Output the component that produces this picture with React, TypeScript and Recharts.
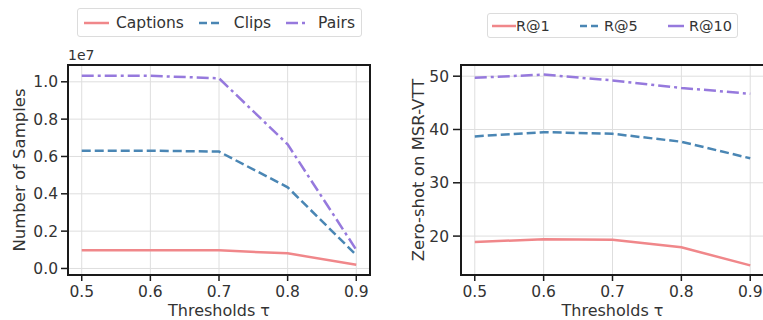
import {
  LineChart,
  Line,
  XAxis,
  YAxis,
  CartesianGrid,
  ReferenceArea,
} from 'recharts';

const thresholds = [0.5, 0.6, 0.7, 0.8, 0.9];
const xTicks = [0.5, 0.6, 0.7, 0.8, 0.9];

// left panel: sample counts
const captions = [0.098e7, 0.098e7, 0.097e7, 0.081e7, 0.02e7];
const clips = [0.631e7, 0.631e7, 0.626e7, 0.435e7, 0.072e7];
const pairs = [1.033e7, 1.032e7, 1.019e7, 0.665e7, 0.1e7];
const samplesTicks = [0, 0.2e7, 0.4e7, 0.6e7, 0.8e7, 1.0e7];

// right panel: zero-shot recall
const r1 = [18.9, 19.4, 19.3, 17.9, 14.5];
const r5 = [38.7, 39.5, 39.2, 37.7, 34.6];
const r10 = [49.7, 50.3, 49.2, 47.8, 46.7];
const recallTicks = [20, 30, 40, 50];

const FONT = '"DejaVu Sans", sans-serif';
const INK = '#333333';
const AXIS = '#1a1a1a';
const GRID = '#dedede';
const RED = '#f0878a';
const BLUE = '#4a86b4';
const PURPLE = '#9679dd';
const DASH = '9 4';
const DASHDOT = '12 4 3 4';
const LABEL_SIZE = 16.5;

const leftData = thresholds.map((t, i) => ({
  t,
  captions: captions[i],
  clips: clips[i],
  pairs: pairs[i],
}));

const rightData = thresholds.map((t, i) => ({
  t,
  r1: r1[i],
  r5: r5[i],
  r10: r10[i],
}));

const tickStyle = { fontSize: 15.5, fill: INK, fontFamily: FONT };

function YLabel(text: string, dx: number) {
  // eslint-disable-next-line @typescript-eslint/no-explicit-any
  return (props: any) => {
    const { x, y, height } = props.viewBox;
    const cx = x + dx;
    const cy = y + height / 2;
    return (
      <text
        x={cx}
        y={cy}
        transform={`rotate(-90 ${cx} ${cy})`}
        textAnchor="middle"
        dominantBaseline="central"
        fontSize={LABEL_SIZE}
        fill={INK}
        fontFamily={FONT}
      >
        {text}
      </text>
    );
  };
}

// eslint-disable-next-line @typescript-eslint/no-explicit-any
function XLabel(props: any) {
  const { x, y, width } = props.viewBox;
  return (
    <text
      x={x + width / 2}
      y={y + 41}
      textAnchor="middle"
      fontSize={16}
      fill={INK}
      fontFamily={FONT}
    >
      Thresholds τ
    </text>
  );
}

type LegendItem = { name: string; color: string; dash?: string; lineW: number; gap: number };

function LegendBox({
  items,
  style,
  fontSize,
}: {
  items: LegendItem[];
  style: React.CSSProperties;
  fontSize: number;
}) {
  return (
    <div
      style={{
        position: 'absolute',
        boxSizing: 'border-box',
        border: '1px solid #dcdcdc',
        borderRadius: 3,
        background: '#fff',
        display: 'flex',
        alignItems: 'center',
        justifyContent: 'space-between',
        fontFamily: FONT,
        fontSize,
        color: INK,
        ...style,
      }}
    >
      {items.map((it) => (
        <div key={it.name} style={{ display: 'flex', alignItems: 'center' }}>
          <svg width={it.lineW} height={6} style={{ marginRight: it.gap }}>
            <line
              x1={0}
              x2={it.lineW}
              y1={3}
              y2={3}
              stroke={it.color}
              strokeWidth={2.5}
              strokeDasharray={it.dash}
            />
          </svg>
          <span>{it.name}</span>
        </div>
      ))}
    </div>
  );
}

export default function App() {
  return (
    <div
      style={{
        position: 'fixed',
        left: 0,
        top: 0,
        width: 763,
        height: 320,
        overflow: 'hidden',
        background: '#fff',
      }}
    >
      <div style={{ position: 'absolute', left: 0, top: 0 }}>
        <LineChart
          width={380}
          height={320}
          data={leftData}
          margin={{ top: 65, right: 10, bottom: 0, left: 0 }}
        >
          <CartesianGrid stroke={GRID} strokeWidth={1} />
          <XAxis
            dataKey="t"
            type="number"
            domain={[0.48, 0.92]}
            ticks={xTicks}
            tickFormatter={(v: number) => v.toFixed(1)}
            tick={tickStyle}
            height={45}
            tickSize={6}
            tickMargin={5}
            axisLine={{ stroke: AXIS, strokeWidth: 2 }}
            tickLine={{ stroke: AXIS, strokeWidth: 1.5 }}
            label={XLabel}
            allowDataOverflow
          />
          <YAxis
            type="number"
            domain={[-0.035e7, 1.09e7]}
            ticks={samplesTicks}
            tickFormatter={(v: number) => (v / 1e7).toFixed(1)}
            tick={tickStyle}
            width={68}
            tickSize={7}
            tickMargin={3}
            axisLine={{ stroke: AXIS, strokeWidth: 2 }}
            tickLine={{ stroke: AXIS, strokeWidth: 1.5 }}
            label={YLabel('Number of Samples', 19)}
            allowDataOverflow
          />
          <ReferenceArea
            x1={0.48}
            x2={0.92}
            y1={-0.035e7}
            y2={1.09e7}
            fill="none"
            stroke={AXIS}
            strokeWidth={2}
            ifOverflow="visible"
          />
          <Line dataKey="captions" stroke={RED} strokeWidth={2.5} dot={false} isAnimationActive={false} />
          <Line
            dataKey="clips"
            stroke={BLUE}
            strokeWidth={2.5}
            strokeDasharray={DASH}
            dot={false}
            isAnimationActive={false}
          />
          <Line
            dataKey="pairs"
            stroke={PURPLE}
            strokeWidth={2.5}
            strokeDasharray={DASHDOT}
            dot={false}
            isAnimationActive={false}
          />
        </LineChart>
      </div>
      <div
        style={{
          position: 'absolute',
          left: 68,
          top: 47,
          fontFamily: FONT,
          fontSize: 14,
          color: INK,
        }}
      >
        1e7
      </div>
      <LegendBox
        items={[
          { name: 'Captions', color: RED, lineW: 25, gap: 7 },
          { name: 'Clips', color: BLUE, dash: '8 4', lineW: 22, gap: 13 },
          { name: 'Pairs', color: PURPLE, dash: DASHDOT, lineW: 22, gap: 10 },
        ]}
        style={{ left: 77, top: 8, width: 285, height: 29, padding: '0 6px' }}
        fontSize={15.5}
      />

      <div style={{ position: 'absolute', left: 380, top: 0 }}>
        <LineChart
          width={390}
          height={320}
          data={rightData}
          margin={{ top: 65, right: 6, bottom: 0, left: 0 }}
        >
          <CartesianGrid stroke={GRID} strokeWidth={1} />
          <XAxis
            dataKey="t"
            type="number"
            domain={[0.48, 0.92]}
            ticks={xTicks}
            tickFormatter={(v: number) => v.toFixed(1)}
            tick={tickStyle}
            height={45}
            tickSize={6}
            tickMargin={5}
            axisLine={{ stroke: AXIS, strokeWidth: 2 }}
            tickLine={{ stroke: AXIS, strokeWidth: 1.5 }}
            label={XLabel}
            allowDataOverflow
          />
          <YAxis
            type="number"
            domain={[12.7, 52.1]}
            ticks={recallTicks}
            tick={tickStyle}
            width={81}
            tickSize={8}
            tickMargin={4}
            axisLine={{ stroke: AXIS, strokeWidth: 2 }}
            tickLine={{ stroke: AXIS, strokeWidth: 1.5 }}
            label={YLabel('Zero-shot on MSR-VTT', 38)}
            allowDataOverflow
          />
          <ReferenceArea
            x1={0.48}
            x2={0.92}
            y1={12.7}
            y2={52.1}
            fill="none"
            stroke={AXIS}
            strokeWidth={2}
            ifOverflow="visible"
          />
          <Line dataKey="r1" stroke={RED} strokeWidth={2.5} dot={false} isAnimationActive={false} />
          <Line
            dataKey="r5"
            stroke={BLUE}
            strokeWidth={2.5}
            strokeDasharray={DASH}
            dot={false}
            isAnimationActive={false}
          />
          <Line
            dataKey="r10"
            stroke={PURPLE}
            strokeWidth={2.5}
            strokeDasharray={DASHDOT}
            dot={false}
            isAnimationActive={false}
          />
        </LineChart>
      </div>
      <LegendBox
        items={[
          { name: 'R@1', color: RED, lineW: 24, gap: 0 },
          { name: 'R@5', color: BLUE, dash: '7 4', lineW: 22, gap: 2 },
          { name: 'R@10', color: PURPLE, lineW: 16, gap: 5 },
        ]}
        style={{ left: 487, top: 13, width: 251, height: 25, padding: '0 5px 0 4px' }}
        fontSize={14.5}
      />
    </div>
  );
}
